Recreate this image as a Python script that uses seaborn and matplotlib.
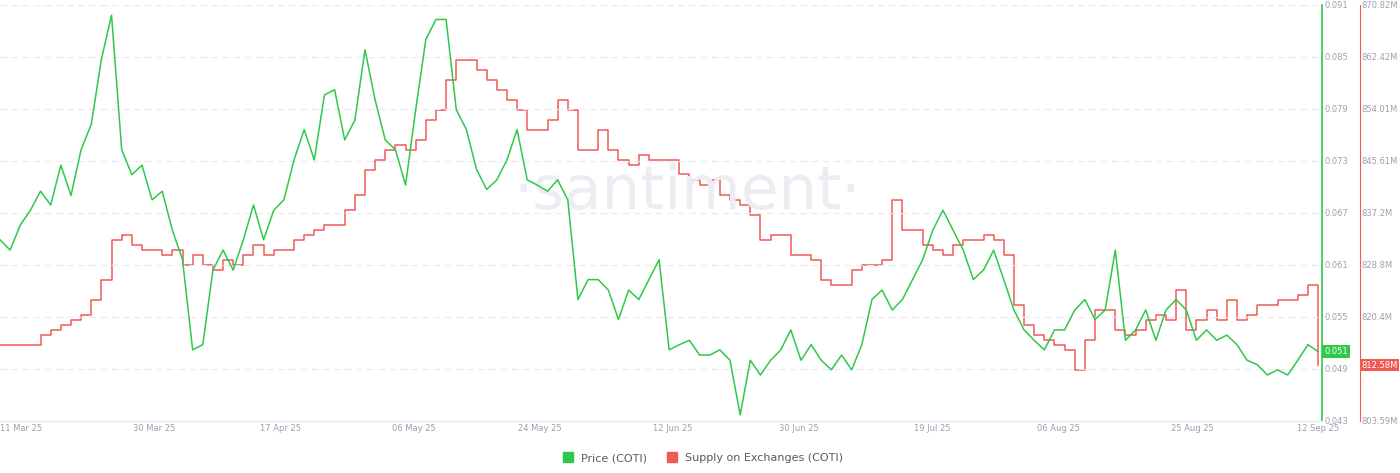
import pandas as pd
import numpy as np
import seaborn as sns
import matplotlib.pyplot as plt
import matplotlib.dates as mdates

# price of COTI, sampled about every 1.4 days
price = [0.0639, 0.0627, 0.0656, 0.0673, 0.0695, 0.0679, 0.0725, 0.0690, 0.0743, 0.0772,
         0.0847, 0.0898, 0.0743, 0.0714, 0.0725, 0.0685, 0.0695, 0.0650, 0.0616, 0.0512,
         0.0518, 0.0604, 0.0627, 0.0604, 0.0639, 0.0679, 0.0639, 0.0673, 0.0685, 0.0731,
         0.0766, 0.0731, 0.0806, 0.0812, 0.0754, 0.0777, 0.0858, 0.0800, 0.0754, 0.0743,
         0.0702, 0.0789, 0.0870, 0.0893, 0.0893, 0.0789, 0.0766, 0.0720, 0.0697, 0.0708,
         0.0731, 0.0766, 0.0708, 0.0702, 0.0695, 0.0708, 0.0685, 0.0570, 0.0593, 0.0593,
         0.0581, 0.0547, 0.0581, 0.0570, 0.0593, 0.0616, 0.0512, 0.0518, 0.0523, 0.0506,
         0.0506, 0.0512, 0.0500, 0.0437, 0.0500, 0.0483, 0.0500, 0.0512, 0.0535, 0.0500,
         0.0518, 0.0500, 0.0489, 0.0506, 0.0489, 0.0518, 0.0570, 0.0581, 0.0558, 0.0570,
         0.0593, 0.0616, 0.0650, 0.0673, 0.0650, 0.0627, 0.0593, 0.0604, 0.0627, 0.0593,
         0.0558, 0.0535, 0.0523, 0.0512, 0.0535, 0.0535, 0.0558, 0.0570, 0.0547, 0.0558,
         0.0627, 0.0523, 0.0535, 0.0558, 0.0523, 0.0558, 0.0570, 0.0558, 0.0523, 0.0535,
         0.0523, 0.0529, 0.0518, 0.0500, 0.0495, 0.0483, 0.0489, 0.0483, 0.0500, 0.0518,
         0.0510]

# supply on exchanges (millions), same sampling
supply = [815.9, 815.9, 815.9, 815.9, 817.5, 818.3, 819.1, 819.9, 820.7, 823.1,
          826.4, 832.8, 833.6, 832.0, 831.2, 831.2, 830.4, 831.2, 828.8, 830.4,
          828.8, 828.0, 829.6, 828.8, 830.4, 832.0, 830.4, 831.2, 831.2, 832.8,
          833.6, 834.5, 835.3, 835.3, 837.7, 840.1, 844.2, 845.8, 847.4, 848.2,
          847.4, 849.0, 852.2, 853.8, 858.7, 861.9, 861.9, 860.3, 858.7, 857.1,
          855.5, 853.8, 850.6, 850.6, 852.2, 855.5, 853.8, 847.4, 847.4, 850.6,
          847.4, 845.8, 845.0, 846.6, 845.8, 845.8, 845.8, 843.4, 842.5, 841.7,
          842.5, 840.1, 839.3, 838.5, 836.9, 832.8, 833.6, 833.6, 830.4, 830.4,
          829.6, 826.4, 825.6, 825.6, 828.0, 828.8, 828.8, 829.6, 839.3, 834.5,
          834.5, 832.0, 831.2, 830.4, 832.0, 832.8, 832.8, 833.6, 832.8, 830.4,
          822.3, 819.1, 817.5, 816.7, 815.9, 815.1, 811.8, 816.7, 821.5, 821.5,
          818.3, 817.5, 818.3, 819.9, 820.7, 819.9, 824.8, 818.3, 819.9, 821.5,
          819.9, 823.1, 819.9, 820.7, 822.3, 822.3, 823.1, 823.1, 823.9, 825.6,
          812.6]

dates = pd.date_range('2025-03-08', '2025-09-12', periods=len(price))
df = pd.DataFrame({'date': dates, 'price': price, 'supply': supply})

green = '#2fc84a'
red = '#ef5a55'
grey = '#9aa0b0'

fig = plt.figure(figsize=(14, 4.73), dpi=100)
ax = fig.add_axes([0.0, 0.11, 0.944, 0.88])
ax2 = ax.twinx()

sns.lineplot(data=df, x='date', y='supply', ax=ax2, color=red, lw=1.1, drawstyle='steps-post')
sns.lineplot(data=df, x='date', y='price', ax=ax, color=green, lw=1.1)
ax.set_zorder(ax2.get_zorder() + 1)
ax.patch.set_visible(False)

price_ticks = np.round(np.arange(0.043, 0.0911, 0.006), 3)
supply_ticks = [803.59, 811.99, 820.4, 828.8, 837.2, 845.61, 854.01, 862.42, 870.82]
supply_labels = ['803.59M', '', '820.4M', '828.8M', '837.2M', '845.61M', '854.01M', '862.42M', '870.82M']

ax.set_ylim(0.043, 0.091)
ax.set_yticks(price_ticks)
ax.set_yticklabels([f'{t:.3f}' for t in price_ticks])
ax.yaxis.tick_right()
ax2.set_ylim(803.59, 870.82)
ax2.set_yticks(supply_ticks)
ax2.set_yticklabels(supply_labels)
ax2.spines['right'].set_position(('axes', 1.029))

ax.set_xlim(dates[0], pd.Timestamp('2025-09-12 12:00'))
xt = pd.to_datetime(['2025-03-11', '2025-03-30', '2025-04-17', '2025-05-06', '2025-05-24', '2025-06-12',
                     '2025-06-30', '2025-07-19', '2025-08-06', '2025-08-25', '2025-09-12'])
ax.set_xticks(xt)
ax.xaxis.set_major_formatter(mdates.DateFormatter('%d %b %y'))

for a in (ax, ax2):
    a.set_xlabel('')
    a.set_ylabel('')
    for s in ('top', 'left', 'bottom'):
        a.spines[s].set_visible(False)
    a.tick_params(length=0, labelsize=6, colors=grey, pad=2)
ax2.tick_params(pad=1)
ax.spines['right'].set_visible(False)
ax2.spines['right'].set_color(red)
ax.plot([1, 1], [0, 1], transform=ax.transAxes, color=green, lw=1.2, clip_on=False)
ax.plot([0, 1], [0, 0], transform=ax.transAxes, color='#e4e6ec', lw=1, clip_on=False)
ax.grid(axis='y', color='#e8e8ee', ls=(0, (6, 4)), lw=0.8)
ax2.grid(False)

ax.text(0.52, 0.55, '·santiment·', transform=ax.transAxes, ha='center', va='center',
        fontsize=44, color='#ecedf3', zorder=0)

# current value badges
ax.text(1.002, (0.051 - 0.043) / 0.048, '0.051', transform=ax.transAxes, fontsize=6, color='white',
        va='center', ha='left', bbox=dict(boxstyle='square,pad=0.25', fc=green, ec='none'))
ax2.text(1.030, (812.58 - 803.59) / 67.23, '812.58M', transform=ax2.transAxes, fontsize=6, color='white',
         va='center', ha='left', bbox=dict(boxstyle='square,pad=0.2', fc=red, ec='none'))

handles = [plt.Line2D([], [], marker='s', ls='', color=green, markersize=7),
           plt.Line2D([], [], marker='s', ls='', color=red, markersize=7)]
fig.legend(handles, ['Price (COTI)', 'Supply on Exchanges (COTI)'], loc='lower center',
           bbox_to_anchor=(0.5, 0.0), ncol=2, frameon=False, fontsize=8, handletextpad=0.2,
           columnspacing=1.2, labelcolor='#555a66')

fig.savefig('out.png', dpi=100)
